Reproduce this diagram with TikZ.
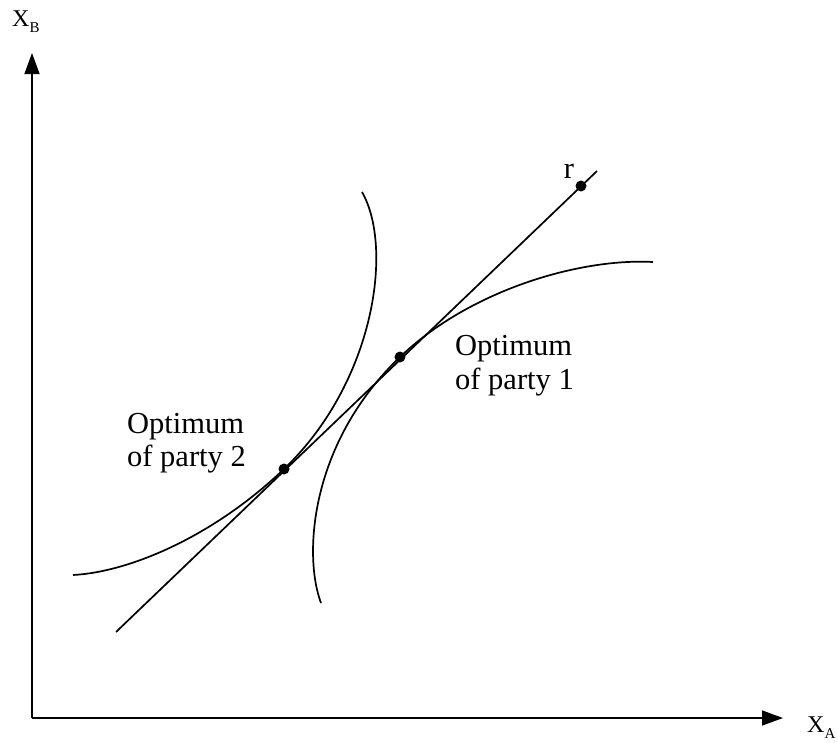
\documentclass[tikz,border=0pt]{standalone}
\usepackage{fontspec}
\setmainfont{Liberation Serif}
\usetikzlibrary{arrows.meta}
\begin{document}
\begin{tikzpicture}[x=1pt,y=-1pt,
  axis/.style={line width=1.4pt,-{Triangle[length=21pt,width=15pt]}},
  curve/.style={line width=1.7pt},
  dot/.style={circle,fill=black,inner sep=0pt,minimum size=11pt},
  lbl/.style={inner sep=0pt,anchor=base west,font=\fontsize{30.5}{34}\selectfont}]
\useasboundingbox[fill=white] (0,0) rectangle (838,742);
% axes
\coordinate (O) at (32,718);
\coordinate (ytip) at (32,53);
\coordinate (xtip) at (783,718);
\draw[axis] (O) -- (ytip);
\draw[axis] (O) -- (xtip);
\node[inner sep=0pt,anchor=base west] (xb) at (12,26) {{\fontsize{24}{24}\selectfont X}{\fontsize{15}{15}\selectfont\raisebox{-6pt}{B}}};
\node[inner sep=0pt,anchor=base west] (xa) at (807,732) {{\fontsize{24}{24}\selectfont X}{\fontsize{15}{15}\selectfont\raisebox{-6pt}{A}}};
% line r
\coordinate (l0) at (116,632);
\coordinate (l1) at (597,171);
\draw[curve] (l0) -- (l1);
% curve of party 2
\draw[curve] (362,192) .. controls (394,248) and (374,383) .. (284,469)
  .. controls (214,536) and (130,572) .. (73,575);
% curve of party 1
\draw[curve] (321,603) .. controls (303,555) and (310,443) .. (400,357)
  .. controls (470,290) and (580,258) .. (653,262);
% dots
\node[dot] (p1) at (400,357) {};
\node[dot] (p2) at (284,469) {};
\node[dot] (r) at (581,186) {};
\node[inner sep=0pt,anchor=base,font=\fontsize{30.5}{34}\selectfont] (rl) at (569,178) {r};
% labels
\node[lbl] (o1a) at (455,355) {Optimum};
\node[lbl] (o1b) at (455,389) {of party 1};
\node[lbl] (o2a) at (127,433) {Optimum};
\node[lbl] (o2b) at (127,466) {of party 2};
\end{tikzpicture}
\end{document}
